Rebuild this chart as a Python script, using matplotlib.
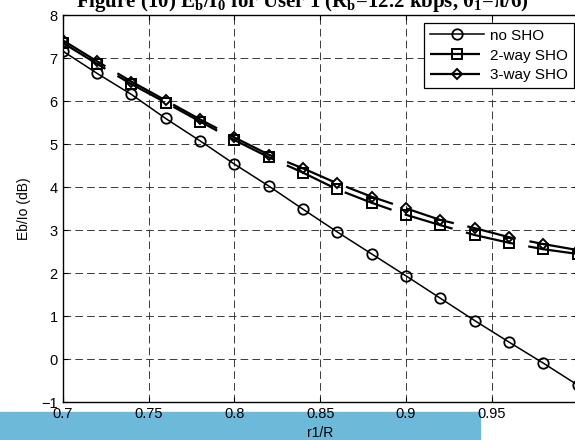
import numpy as np
import matplotlib
matplotlib.use('Agg')
import matplotlib.pyplot as plt
from matplotlib.patches import Rectangle

plt.rcParams['font.family'] = ['Liberation Sans', 'DejaVu Sans']
plt.rcParams['mathtext.fontset'] = 'custom'
plt.rcParams['mathtext.rm'] = 'Liberation Serif:bold'
plt.rcParams['mathtext.default'] = 'rm'
plt.rcParams['lines.scale_dashes'] = False

# Eb/Io (dB) for user 1 against normalised position r1/R
r_ratio = [0.70, 0.72, 0.74, 0.76, 0.78, 0.80, 0.82, 0.84,
           0.86, 0.88, 0.90, 0.92, 0.94, 0.96, 0.98, 1.00]
eb_no_sho = [7.17, 6.65, 6.16, 5.60, 5.08, 4.54, 4.03, 3.49,
             2.96, 2.45, 1.94, 1.42, 0.90, 0.40, -0.09, -0.60]
eb_2way = [7.36, 6.87, 6.40, 5.97, 5.53, 5.10, 4.70, 4.34,
           3.95, 3.64, 3.36, 3.12, 2.89, 2.71, 2.56, 2.45]
eb_3way = [7.42, 6.93, 6.46, 6.02, 5.58, 5.16, 4.76, 4.44,
           4.09, 3.78, 3.51, 3.24, 3.05, 2.84, 2.68, 2.54]

xticks = [0.7, 0.75, 0.8, 0.85, 0.9, 0.95, 1.0]
xticklabels = ['0.7', '0.75', '0.8', '0.85', '0.9', '0.95', '']
yticks = [-1, 0, 1, 2, 3, 4, 5, 6, 7, 8]

fig = plt.figure(figsize=(5.75, 4.4), dpi=100)
ax = fig.add_axes([62.7/575, 37.7/440, 515/575, 387/440])

# long-dash pattern used for the soft handover curves
sho_dash = (0, (36, 10))

ax.plot(r_ratio, eb_no_sho, '-o', color='k', lw=1.1, ms=7.5, mfc='none', mew=1.3,
        label='no SHO')
ax.plot(r_ratio, eb_2way, marker='s', ls=sho_dash, color='k', lw=1.6, ms=6.8,
        mfc='none', mew=1.4, label='2-way SHO')
ax.plot(r_ratio, eb_3way, marker='D', ls=sho_dash, color='k', lw=1.6, ms=5.4,
        mfc='none', mew=1.4, label='3-way SHO')

ax.set_xlim(0.7, 1.0)
ax.set_ylim(-1, 8)
ax.set_xticks(xticks)
ax.set_xticklabels(xticklabels)
ax.set_yticks(yticks)
ax.grid(True, ls=(0, (5.5, 3)), color='#3a3a3a', lw=0.7)
ax.set_axisbelow(True)
ax.tick_params(direction='in', top=True, right=True, length=3.5, width=0.8,
               labelsize=10.5, pad=3.5)
for sp in ax.spines.values():
    sp.set_linewidth(1.0)

ax.set_xlabel('r1/R', fontsize=10)
ax.set_ylabel('Eb/Io (dB)', fontsize=10)
ax.xaxis.set_label_coords(0.5, -0.062)
ax.yaxis.set_label_coords(-0.062, 0.5)

leg = ax.legend(loc='upper right', bbox_to_anchor=(0.9926, 0.981), borderaxespad=0,
                fancybox=False, edgecolor='k', framealpha=1, fontsize=11,
                handlelength=3.5, handletextpad=0.4, labelspacing=0.38,
                borderpad=0.4)
leg.get_frame().set_linewidth(0.9)

fig.text(302/575, 1 - 7.5/440,
         'Figure (10) E$_b$/I$_0$ for User 1 (R$_b$=12.2 kbps, θ$_1$=π/6)',
         ha='center', va='baseline', fontsize=15, fontweight='bold',
         family='Liberation Serif')

# highlight band along the bottom edge
fig.patches.append(Rectangle((0, 0), 480/575, 28/440, transform=fig.transFigure,
                             color='#6db9da', zorder=-1))

fig.savefig('out.png', dpi=100)
